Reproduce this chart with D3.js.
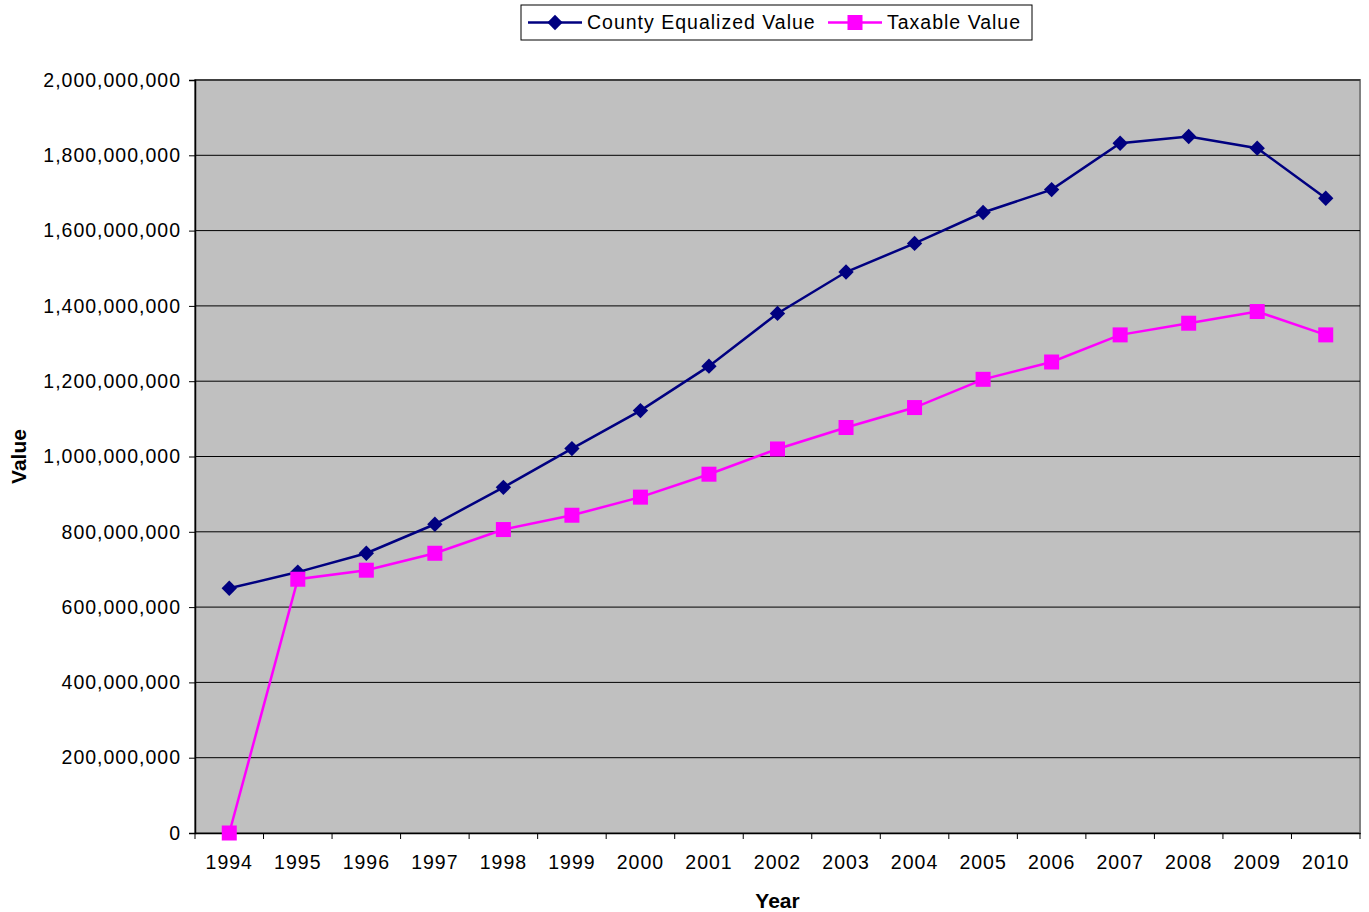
<!DOCTYPE html>
<html>
<head>
<meta charset="utf-8">
<script src="https://cdn.jsdelivr.net/npm/d3@7"></script>
<style>
  body { margin: 0; background: #fff; }
  svg { font-family: Arial, "Liberation Sans", sans-serif; }
</style>
</head>
<body>
<svg id="chart"></svg>
<script>
// Data
const YEARS = ["1994", "1995", "1996", "1997", "1998", "1999", "2000", "2001", "2002",
  "2003", "2004", "2005", "2006", "2007", "2008", "2009", "2010"];
const COUNTY_EQUALIZED = [650e6, 693e6, 743e6, 820e6, 918e6, 1021e6, 1122e6, 1240e6, 1380e6,
  1490e6, 1566e6, 1648e6, 1709e6, 1832e6, 1850e6, 1819e6, 1686e6];
const TAXABLE = [0, 674e6, 698e6, 743e6, 806e6, 844e6, 892e6, 953e6, 1020e6,
  1077e6, 1130e6, 1205e6, 1251e6, 1323e6, 1354e6, 1385e6, 1323e6];
const Y_TICKS = [0, 200e6, 400e6, 600e6, 800e6, 1000e6, 1200e6, 1400e6, 1600e6, 1800e6, 2000e6];

// SVG constants
const WIDTH = 1369;
const HEIGHT = 912;
const M = { left: 195, right: 1360, top: 80, bottom: 833 };
const FONT_SIZE = 19.5;

const svg = d3.select("#chart")
  .attr("width", WIDTH)
  .attr("height", HEIGHT);

// Scales
const xScale = d3.scaleBand()
  .domain(YEARS)
  .range([M.left, M.right]);

const yScale = d3.scaleLinear()
  .domain([0, 2e9])
  .range([M.bottom, M.top]);

const xMid = d => xScale(d) + xScale.bandwidth() / 2;

// Plot background
svg.append("rect")
  .attr("x", M.left)
  .attr("y", M.top)
  .attr("width", M.right - M.left)
  .attr("height", M.bottom - M.top)
  .attr("fill", "#c0c0c0")
  .attr("stroke", "#808080")
  .attr("stroke-width", 2);

// Gridlines
svg.selectAll(".grid")
  .data(Y_TICKS.slice(1))
  .enter()
  .append("line")
  .attr("class", "grid")
  .attr("x1", M.left)
  .attr("x2", M.right)
  .attr("y1", d => yScale(d))
  .attr("y2", d => yScale(d))
  .attr("stroke", "#000")
  .attr("stroke-width", 1);

// Y axis
const yAxis = svg.append("g")
  .attr("transform", `translate(${M.left},0)`)
  .call(d3.axisLeft(yScale)
    .tickValues(Y_TICKS)
    .tickSize(6)
    .tickPadding(8)
    .tickFormat(d3.format(",")));

// X axis
const xAxis = svg.append("g")
  .attr("transform", `translate(0,${M.bottom})`)
  .call(d3.axisBottom(xScale).tickSize(0).tickPadding(22));

// X tick marks at category boundaries
xAxis.selectAll(".bound")
  .data(YEARS.concat(["end"]))
  .enter()
  .append("line")
  .attr("class", "bound")
  .attr("x1", (d, i) => M.left + i * xScale.bandwidth())
  .attr("x2", (d, i) => M.left + i * xScale.bandwidth())
  .attr("y1", 0)
  .attr("y2", 6)
  .attr("stroke", "#000");

[yAxis, xAxis].forEach(g => {
  g.selectAll("text")
    .attr("font-size", FONT_SIZE)
    .attr("letter-spacing", 1)
    .attr("fill", "#000")
    .attr("font-family", "Arial, 'Liberation Sans', sans-serif");
  g.select(".domain").attr("stroke", "#000").attr("stroke-width", 1.5);
  g.selectAll(".tick line").attr("stroke", "#000");
});

// Axis titles
svg.append("text")
  .attr("x", (M.left + M.right) / 2)
  .attr("y", 908)
  .attr("text-anchor", "middle")
  .attr("font-size", 21)
  .attr("font-weight", "bold")
  .text("Year");

svg.append("text")
  .attr("transform", `translate(26,${(M.top + M.bottom) / 2}) rotate(-90)`)
  .attr("text-anchor", "middle")
  .attr("font-size", 21)
  .attr("font-weight", "bold")
  .text("Value");

// Lines
const line = d3.line()
  .x((d, i) => xMid(YEARS[i]))
  .y(d => yScale(d));

svg.append("path")
  .datum(COUNTY_EQUALIZED)
  .attr("d", line)
  .attr("fill", "none")
  .attr("stroke", "#000080")
  .attr("stroke-width", 2.5);

svg.append("path")
  .datum(TAXABLE)
  .attr("d", line)
  .attr("fill", "none")
  .attr("stroke", "#ff00ff")
  .attr("stroke-width", 2.5);

// Markers
const diamond = d3.symbol().type(d3.symbolDiamond2).size(150);

svg.selectAll(".cev")
  .data(COUNTY_EQUALIZED)
  .enter()
  .append("path")
  .attr("class", "cev")
  .attr("d", diamond)
  .attr("transform", (d, i) => `translate(${xMid(YEARS[i])},${yScale(d)})`)
  .attr("fill", "#000080");

svg.selectAll(".tax")
  .data(TAXABLE)
  .enter()
  .append("rect")
  .attr("class", "tax")
  .attr("x", (d, i) => xMid(YEARS[i]) - 7.5)
  .attr("y", d => yScale(d) - 7.5)
  .attr("width", 15)
  .attr("height", 15)
  .attr("fill", "#ff00ff");

// Legend
const legend = svg.append("g").attr("transform", "translate(521,5)");

legend.append("rect")
  .attr("width", 511)
  .attr("height", 35)
  .attr("fill", "#fff")
  .attr("stroke", "#000")
  .attr("stroke-width", 1);

const items = [
  { name: "County Equalized Value", color: "#000080", x: 7, shape: "diamond" },
  { name: "Taxable Value", color: "#ff00ff", x: 307, shape: "square" }
];

items.forEach(it => {
  const g = legend.append("g").attr("transform", `translate(${it.x},17.5)`);
  g.append("line")
    .attr("x1", 0).attr("x2", 54)
    .attr("stroke", it.color)
    .attr("stroke-width", 2.5);
  if (it.shape === "diamond") {
    g.append("path")
      .attr("d", diamond)
      .attr("transform", "translate(27,0)")
      .attr("fill", it.color);
  } else {
    g.append("rect")
      .attr("x", 19.5).attr("y", -7.5)
      .attr("width", 15).attr("height", 15)
      .attr("fill", it.color);
  }
  g.append("text")
    .attr("x", 59)
    .attr("dy", "0.35em")
    .attr("font-size", FONT_SIZE)
    .attr("letter-spacing", 1)
    .text(it.name);
});
</script>
</body>
</html>
